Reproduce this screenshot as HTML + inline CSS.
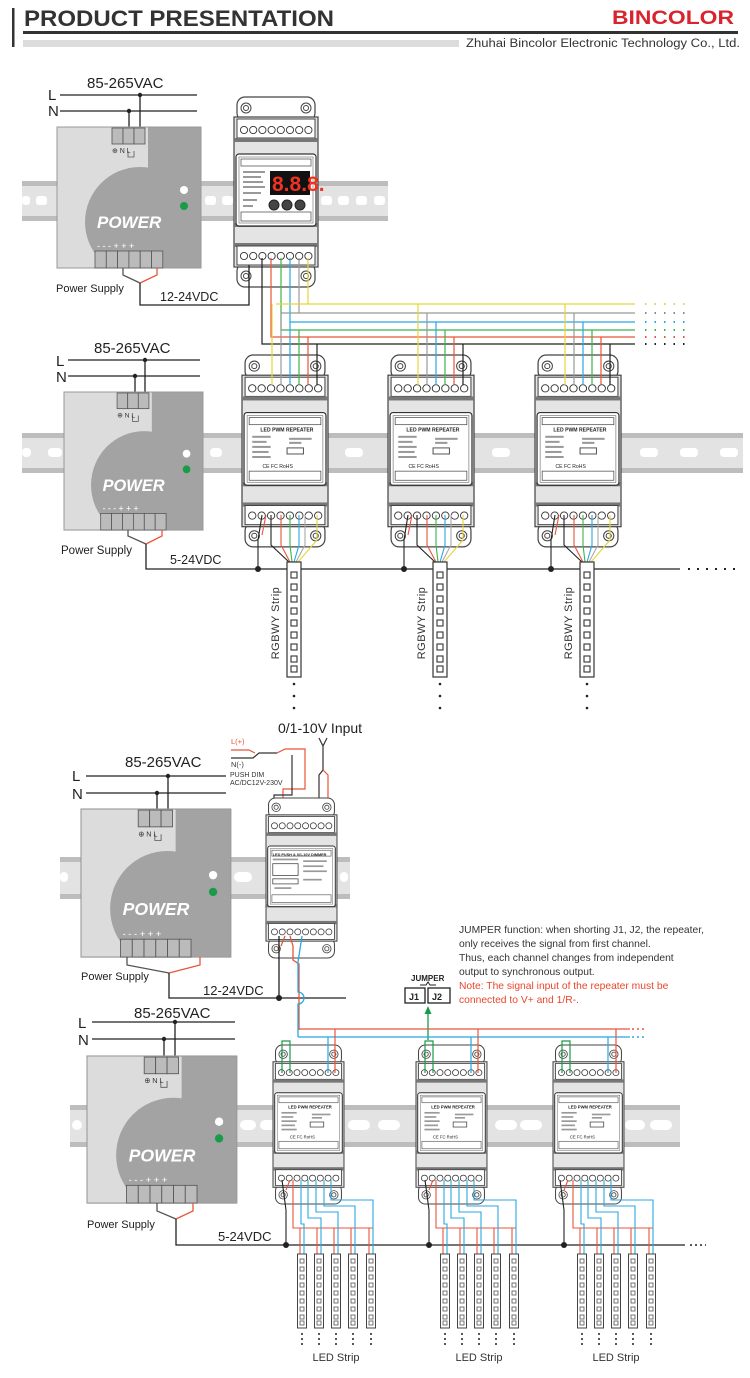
<!DOCTYPE html>
<html><head><meta charset="utf-8"><style>
html,body{margin:0;padding:0;background:#fff;width:750px;height:1378px;overflow:hidden}
svg{display:block}
text{font-family:"Liberation Sans",sans-serif}
</style></head><body>
<svg width="750" height="1378" viewBox="0 0 750 1378" xmlns="http://www.w3.org/2000/svg">
<defs>
<clipPath id="pc"><rect x="0" y="0" width="144" height="141"/></clipPath>
<g id="psu">
 <rect x="0" y="0" width="144" height="141" fill="#dcdcdc" stroke="#999"/>
 <g clip-path="url(#pc)" fill="#a3a3a3">
  <rect x="91" y="0" width="53" height="141"/>
  <circle cx="83" cy="95" r="55"/>
  <rect x="83" y="95" width="61" height="46"/>
 </g>
 <rect x="0" y="0" width="144" height="141" fill="none" stroke="#999"/>
 <g fill="#bbb" stroke="#555" stroke-width="0.8">
  <rect x="55" y="1" width="11" height="16"/><rect x="66" y="1" width="11" height="16"/><rect x="77" y="1" width="11" height="16"/>
  <rect x="38" y="124" width="11.3" height="17"/><rect x="49.3" y="124" width="11.3" height="17"/><rect x="60.6" y="124" width="11.3" height="17"/>
  <rect x="71.9" y="124" width="11.3" height="17"/><rect x="83.2" y="124" width="11.3" height="17"/><rect x="94.5" y="124" width="11.3" height="17"/>
 </g>
 <circle cx="127" cy="63" r="4" fill="#fff"/>
 <circle cx="127" cy="79" r="4" fill="#1a9b4a"/>
 <path d="M71 24v6h6v-6" fill="none" stroke="#555" stroke-width="0.8"/>
</g>
<g id="mod">
 <rect x="3" y="0" width="78" height="24" rx="8" fill="#fff" stroke="#444" stroke-width="1.2"/>
 <rect x="3" y="166" width="78" height="24" rx="8" fill="#fff" stroke="#444" stroke-width="1.2"/>
 <circle cx="12" cy="11" r="5" fill="#fff" stroke="#444"/><circle cx="12" cy="11" r="2.5" fill="none" stroke="#444"/>
 <circle cx="72" cy="11" r="5" fill="#fff" stroke="#444"/><circle cx="72" cy="11" r="2.5" fill="none" stroke="#444"/>
 <circle cx="12" cy="179" r="5" fill="#fff" stroke="#444"/><circle cx="12" cy="179" r="2.5" fill="none" stroke="#444"/>
 <circle cx="72" cy="179" r="5" fill="#fff" stroke="#444"/><circle cx="72" cy="179" r="2.5" fill="none" stroke="#444"/>
 <rect x="0" y="20" width="84" height="150" fill="#e4e4e4" stroke="#444" stroke-width="1.2"/>
 <rect x="3" y="22" width="78" height="19" fill="#fff" stroke="#444"/>
 <g fill="#fff" stroke="#333" stroke-width="0.9">
  <circle cx="10" cy="33" r="3.6"/><circle cx="19.2" cy="33" r="3.6"/><circle cx="28.4" cy="33" r="3.6"/><circle cx="37.6" cy="33" r="3.6"/>
  <circle cx="46.8" cy="33" r="3.6"/><circle cx="56" cy="33" r="3.6"/><circle cx="65.2" cy="33" r="3.6"/><circle cx="74.4" cy="33" r="3.6"/>
 </g>
 <rect x="0" y="41" width="84" height="4" fill="#777"/>
 <rect x="0" y="126" width="84" height="4" fill="#777"/>
 <rect x="2" y="57" width="80" height="72" rx="3" fill="#fff" stroke="#333" stroke-width="1.2"/>
 <rect x="5" y="60" width="74" height="66" fill="#fff" stroke="#666" stroke-width="0.6"/>
 <rect x="7" y="62" width="70" height="7" fill="#fff" stroke="#444" stroke-width="0.7"/>
 <rect x="7" y="115" width="70" height="9" fill="#fff" stroke="#444" stroke-width="0.7"/>
 <rect x="0" y="146" width="84" height="4" fill="#777"/>
 <rect x="3" y="149" width="78" height="19" fill="#fff" stroke="#444"/>
 <g fill="#fff" stroke="#333" stroke-width="0.9">
  <circle cx="10" cy="159" r="3.6"/><circle cx="19.2" cy="159" r="3.6"/><circle cx="28.4" cy="159" r="3.6"/><circle cx="37.6" cy="159" r="3.6"/>
  <circle cx="46.8" cy="159" r="3.6"/><circle cx="56" cy="159" r="3.6"/><circle cx="65.2" cy="159" r="3.6"/><circle cx="74.4" cy="159" r="3.6"/>
 </g>
</g>
<g id="rep">
 <g fill="#999"><rect x="10" y="80" width="18" height="2"/><rect x="10" y="85" width="14" height="2"/><rect x="10" y="90" width="18" height="2"/><rect x="10" y="95" width="16" height="2"/><rect x="10" y="100" width="18" height="2"/><rect x="46" y="82" width="22" height="2"/><rect x="46" y="86" width="12" height="2"/><rect x="44" y="92" width="16" height="6" fill="none" stroke="#555"/></g>
</g>
<g id="rail">
 <rect x="0" y="0" width="1" height="40" fill="#e6e6e6"/>
</g>
<g id="strip">
 <rect x="0" y="0" width="14" height="115" fill="#fff" stroke="#333" stroke-width="1.2"/>
 <g fill="#fff" stroke="#333" stroke-width="1.1">
  <rect x="4" y="10" width="6" height="6"/><rect x="4" y="22" width="6" height="6"/><rect x="4" y="34" width="6" height="6"/>
  <rect x="4" y="46" width="6" height="6"/><rect x="4" y="58" width="6" height="6"/><rect x="4" y="70" width="6" height="6"/>
  <rect x="4" y="82" width="6" height="6"/><rect x="4" y="94" width="6" height="6"/><rect x="4" y="104" width="6" height="6"/>
 </g>
 <g fill="#222"><circle cx="7" cy="122" r="1.3"/><circle cx="7" cy="134" r="1.3"/><circle cx="7" cy="146" r="1.3"/></g>
</g>
<g id="sstrip">
 <rect x="0" y="0" width="9" height="74" fill="#fff" stroke="#444" stroke-width="1"/>
 <g fill="#fff" stroke="#555" stroke-width="0.8">
  <rect x="2.5" y="5" width="4" height="4"/><rect x="2.5" y="13" width="4" height="4"/><rect x="2.5" y="21" width="4" height="4"/>
  <rect x="2.5" y="29" width="4" height="4"/><rect x="2.5" y="37" width="4" height="4"/><rect x="2.5" y="45" width="4" height="4"/>
  <rect x="2.5" y="53" width="4" height="4"/><rect x="2.5" y="61" width="4" height="4"/><rect x="2.5" y="67" width="4" height="4"/>
 </g>
 <g fill="#222"><circle cx="4.5" cy="80" r="1"/><circle cx="4.5" cy="85" r="1"/><circle cx="4.5" cy="90" r="1"/></g>
</g>
</defs>

<!-- HEADER -->
<rect x="12" y="8" width="2.5" height="39" fill="#333"/>
<text x="24" y="26" font-size="22" font-weight="bold" fill="#333" textLength="310" lengthAdjust="spacingAndGlyphs">PRODUCT PRESENTATION</text>
<text x="612" y="24" font-size="19" font-weight="bold" fill="#d9232d" textLength="122" lengthAdjust="spacingAndGlyphs">BINCOLOR</text>
<rect x="23" y="31" width="715" height="3" fill="#333"/>
<rect x="23" y="40" width="436" height="7" fill="#dcdcdc"/>
<text x="466" y="47" font-size="11.5" fill="#333" textLength="274" lengthAdjust="spacingAndGlyphs">Zhuhai Bincolor Electronic Technology Co., Ltd.</text>

<!-- ============ SECTION 1 ============ -->
<rect x="22" y="181" width="366" height="40" fill="#e3e3e3"/>
<rect x="22" y="181" width="366" height="5" fill="#bdbdbd"/><rect x="22" y="216" width="366" height="5" fill="#bdbdbd"/>
<g fill="#fff"><rect x="22" y="196" width="8" height="9" rx="3"/><rect x="36" y="196" width="11" height="9" rx="3"/><rect x="205" y="196" width="11" height="9" rx="3"/><rect x="222" y="196" width="11" height="9" rx="3"/><rect x="321" y="196" width="11" height="9" rx="3"/><rect x="338" y="196" width="11" height="9" rx="3"/><rect x="356" y="196" width="11" height="9" rx="3"/><rect x="374" y="196" width="11" height="9" rx="3"/></g>

<text x="87" y="88" font-size="15" fill="#222">85-265VAC</text>
<text x="48" y="100" font-size="15" fill="#222">L</text>
<text x="48" y="116" font-size="15" fill="#222">N</text>
<g stroke="#222" stroke-width="1.3" fill="none">
 <line x1="60" y1="95" x2="197" y2="95"/><line x1="60" y1="111" x2="197" y2="111"/>
 <line x1="140" y1="95" x2="140" y2="128"/><line x1="129" y1="111" x2="129" y2="128"/>
</g>
<circle cx="140" cy="95" r="2.2" fill="#222"/><circle cx="129" cy="111" r="2.2" fill="#222"/>
<g transform="translate(57,127)"><use href="#psu"/>
 <text x="40" y="101" font-size="17" font-weight="bold" font-style="italic" fill="#fff">POWER</text>
 <text x="40" y="122" font-size="9" fill="#fff" letter-spacing="2.5">---+++</text>
 <text x="55" y="26" font-size="7" fill="#333">⊕ N L</text>
</g>
<text x="56" y="292" font-size="11" fill="#222">Power Supply</text>
<text x="160" y="301" font-size="12.5" fill="#222">12-24VDC</text>

<!-- decoder -->
<g transform="translate(234,97)"><use href="#mod"/>
 <rect x="36" y="74" width="40" height="24" fill="#111"/>
 <text x="38" y="94" font-size="21" fill="#e32" font-family="Liberation Mono" font-weight="bold">8.8.8.</text>
 <g fill="#444" stroke="#222"><circle cx="40" cy="108" r="5"/><circle cx="53" cy="108" r="5"/><circle cx="66" cy="108" r="5"/></g>
 <g fill="#999"><rect x="9" y="74" width="22" height="2"/><rect x="9" y="79" width="18" height="2"/><rect x="9" y="84" width="20" height="2"/><rect x="9" y="89" width="22" height="2"/><rect x="9" y="95" width="18" height="2"/><rect x="9" y="102" width="14" height="2"/><rect x="9" y="108" width="10" height="2"/></g>
</g>

<!-- section1 power wires -->
<g fill="none" stroke-width="1.3">
 <path d="M123 268v7l17 8" stroke="#555"/><path d="M157 268v7l-17 8" stroke="#e8553a"/>
 <path d="M140 283v22h109v-40" stroke="#222"/>
</g>
<!-- decoder to bus -->
<g fill="none" stroke-width="1.2">
 <path d="M262 258V344H635" stroke="#222"/>
 <path d="M271 258V337H635" stroke="#e8553a"/>
 <path d="M281 258V330H635" stroke="#3cb54a"/>
 <path d="M290 258V322H635" stroke="#29a8e0"/>
 <path d="M299 258V313H635" stroke="#999"/>
 <path d="M308 258V304H635" stroke="#e8d43a"/>
 <path d="M276 304H308" stroke="#e8d43a"/><path d="M281 313H299" stroke="#999"/>
</g>
<g stroke-width="2" stroke-dasharray="1.5 8" fill="none">
 <line x1="645" y1="304" x2="690" y2="304" stroke="#e8d43a"/>
 <line x1="645" y1="313" x2="690" y2="313" stroke="#888"/>
 <line x1="645" y1="322" x2="690" y2="322" stroke="#29a8e0"/>
 <line x1="645" y1="330" x2="690" y2="330" stroke="#3cb54a"/>
 <line x1="645" y1="337" x2="690" y2="337" stroke="#e8553a"/>
 <line x1="645" y1="344" x2="690" y2="344" stroke="#222"/>
</g>

<!-- ============ SECTION 2 ============ -->
<rect x="22" y="433" width="721" height="40" fill="#e3e3e3"/>
<rect x="22" y="433" width="721" height="5" fill="#bdbdbd"/><rect x="22" y="468" width="721" height="5" fill="#bdbdbd"/>
<g fill="#fff"><rect x="22" y="448" width="9" height="9" rx="4"/><rect x="48" y="448" width="14" height="9" rx="4"/><rect x="210" y="448" width="12" height="9" rx="4"/><rect x="345" y="448" width="18" height="9" rx="4"/><rect x="492" y="448" width="18" height="9" rx="4"/><rect x="640" y="448" width="18" height="9" rx="4"/><rect x="680" y="448" width="18" height="9" rx="4"/><rect x="720" y="448" width="18" height="9" rx="4"/><rect x="484" y="448" width="0" height="9"/></g>

<text x="94" y="353" font-size="15" fill="#222">85-265VAC</text>
<text x="56" y="366" font-size="15" fill="#222">L</text>
<text x="56" y="382" font-size="15" fill="#222">N</text>
<g stroke="#222" stroke-width="1.3" fill="none">
 <line x1="68" y1="360" x2="200" y2="360"/><line x1="68" y1="376" x2="200" y2="376"/>
 <line x1="145" y1="360" x2="145" y2="393"/><line x1="135" y1="376" x2="135" y2="393"/>
</g>
<circle cx="145" cy="360" r="2.2" fill="#222"/><circle cx="135" cy="376" r="2.2" fill="#222"/>
<g transform="translate(64,392) scale(0.965,0.979)"><use href="#psu"/>
 <text x="40" y="101" font-size="17" font-weight="bold" font-style="italic" fill="#fff">POWER</text>
 <text x="40" y="122" font-size="9" fill="#fff" letter-spacing="2.5">---+++</text>
 <text x="55" y="26" font-size="7" fill="#333">⊕ N L</text>
</g>
<text x="61" y="554" font-size="11.5" fill="#222">Power Supply</text>
<text x="170" y="564" font-size="12.5" fill="#222">5-24VDC</text>
<g fill="none" stroke-width="1.3">
 <path d="M128 530v6l18 8" stroke="#555"/><path d="M162 530v6l-16 8" stroke="#e8553a"/>
 <path d="M146 544v25h534" stroke="#222"/>
</g>
<g stroke="#222" stroke-width="2" stroke-dasharray="2 7"><line x1="688" y1="569" x2="740" y2="569"/></g>

<!-- repeaters row 2 + drops -->
<g id="r2a">
<g transform="translate(242,355) scale(1.024,1.01)"><use href="#mod"/><use href="#rep"/>
 <text x="18" y="76" font-size="5" font-weight="bold" fill="#222">LED PWM REPEATER</text>
 <text x="20" y="112" font-size="5" fill="#222">CE FC RoHS</text></g>
</g>
<g transform="translate(388,355) scale(1.024,1.01)"><use href="#mod"/><use href="#rep"/>
 <text x="18" y="76" font-size="5" font-weight="bold" fill="#222">LED PWM REPEATER</text>
 <text x="20" y="112" font-size="5" fill="#222">CE FC RoHS</text></g>
<g transform="translate(535,355) scale(1.024,1.01)"><use href="#mod"/><use href="#rep"/>
 <text x="18" y="76" font-size="5" font-weight="bold" fill="#222">LED PWM REPEATER</text>
 <text x="20" y="112" font-size="5" fill="#222">CE FC RoHS</text></g>

<g fill="none" stroke-width="1.2">
 <path d="M272 304V385M418 304V385M565 304V385" stroke="#e8d43a"/>
 <path d="M281 313V385M427 313V385M574 313V385" stroke="#999"/>
 <path d="M290 322V385M436 322V385M583 322V385" stroke="#29a8e0"/>
 <path d="M299 330V385M445 330V385M592 330V385" stroke="#3cb54a"/>
 <path d="M308 337V385M454 337V385M601 337V385" stroke="#e8553a"/>
 <path d="M317 344V385M463 344V385M610 344V385" stroke="#222"/>
</g>

<!-- rep2 bottom wires -->
<g fill="none" stroke-width="1.1">
 <path d="M258 569V540l4-25M404 569V540l4-25M551 569V540l4-25" stroke="#222"/>
 <path d="M266 515l-4 20M412 515l-4 20M559 515l-4 20" stroke="#e8553a"/>
 <path d="M271 515v30l18 17M417 515v30l18 17M564 515v30l18 17" stroke="#222"/>
 <path d="M281 515v30l9 17M427 515v30l9 17M574 515v30l9 17" stroke="#e8553a"/>
 <path d="M290 515v30l2 17M436 515v30l2 17M583 515v30l2 17" stroke="#3cb54a"/>
 <path d="M299 515v30l-5 17M445 515v30l-5 17M592 515v30l-5 17" stroke="#29a8e0"/>
 <path d="M305 515v30l-9 17M451 515v30l-9 17M598 515v30l-9 17" stroke="#aaa"/>
 <path d="M317 515v25l-19 22M463 515v25l-19 22M610 515v25l-19 22" stroke="#e8d43a"/>
</g>
<g fill="#222"><circle cx="258" cy="569" r="3"/><circle cx="404" cy="569" r="3"/><circle cx="551" cy="569" r="3"/></g>
<use href="#strip" x="287" y="562"/><use href="#strip" x="433" y="562"/><use href="#strip" x="580" y="562"/>
<text transform="translate(279,623) rotate(-90)" text-anchor="middle" font-size="11" fill="#333" letter-spacing="0.5">RGBWY Strip</text>
<text transform="translate(425,623) rotate(-90)" text-anchor="middle" font-size="11" fill="#333" letter-spacing="0.5">RGBWY Strip</text>
<text transform="translate(572,623) rotate(-90)" text-anchor="middle" font-size="11" fill="#333" letter-spacing="0.5">RGBWY Strip</text>

<!-- ============ SECTION 3 ============ -->
<rect x="60" y="857" width="290" height="42" fill="#e3e3e3"/>
<rect x="60" y="857" width="290" height="5" fill="#bdbdbd"/><rect x="60" y="894" width="290" height="5" fill="#bdbdbd"/>
<g fill="#fff"><rect x="60" y="872" width="8" height="10" rx="4"/><rect x="234" y="872" width="18" height="10" rx="5"/><rect x="340" y="872" width="8" height="10" rx="4"/></g>

<text x="278" y="733" font-size="14" fill="#222">0/1-10V Input</text>
<text x="231" y="744" font-size="7.5" fill="#e8553a">L(+)</text>
<text x="231" y="767" font-size="7.5" fill="#333">N(-)</text>
<text x="230" y="777" font-size="7" fill="#333">PUSH DIM</text>
<text x="230" y="785" font-size="7" fill="#333">AC/DC12V-230V</text>
<g fill="none" stroke-width="1.2">
 <path d="M231 750h18l6 3" stroke="#e8553a"/>
 <path d="M231 758h22l6-5h18" stroke="#333"/>
 <path d="M277 753l8-4h20v40h-22v38" stroke="#e8553a"/>
 <path d="M292 755v40h-18v32" stroke="#333"/>
 <path d="M319 738l4 8l4-8M323 746v24l-4 5v52" stroke="#333"/>
 <path d="M323 770l5 5v52" stroke="#e8553a"/>
</g>
<text x="85" y="767" font-size="15" fill="#222" dx="40">85-265VAC</text>
<text x="72" y="781" font-size="15" fill="#222">L</text>
<text x="72" y="799" font-size="15" fill="#222">N</text>
<g stroke="#222" stroke-width="1.3" fill="none">
 <line x1="86" y1="776" x2="226" y2="776"/><line x1="86" y1="793" x2="226" y2="793"/>
 <line x1="168" y1="776" x2="168" y2="810"/><line x1="157" y1="793" x2="157" y2="810"/>
</g>
<circle cx="168" cy="776" r="2.2" fill="#222"/><circle cx="157" cy="793" r="2.2" fill="#222"/>
<g transform="translate(81,809) scale(1.04,1.05)"><use href="#psu"/>
 <text x="40" y="101" font-size="17" font-weight="bold" font-style="italic" fill="#fff">POWER</text>
 <text x="40" y="122" font-size="9" fill="#fff" letter-spacing="2.5">---+++</text>
 <text x="55" y="26" font-size="7" fill="#333">⊕ N L</text>
</g>
<text x="81" y="980" font-size="11" fill="#222">Power Supply</text>
<text x="203" y="995" font-size="13" fill="#222">12-24VDC</text>

<g transform="translate(266,798) scale(0.845,0.842)"><use href="#mod"/>
 <g fill="#999"><rect x="8" y="72" width="30" height="2"/><rect x="8" y="78" width="30" height="14" fill="none" stroke="#555"/><rect x="8" y="96" width="30" height="6" fill="none" stroke="#555"/><rect x="44" y="74" width="28" height="2"/><rect x="44" y="80" width="24" height="2"/><rect x="44" y="86" width="28" height="2"/><rect x="44" y="96" width="22" height="2"/><rect x="10" y="106" width="20" height="2"/></g>
 <text x="8" y="69" font-size="4.5" font-weight="bold" fill="#222">LED PUSH &amp; 0/1-10V DIMMER</text>
</g>

<g fill="none" stroke-width="1.3">
 <path d="M127 957v8l42 8" stroke="#555"/><path d="M200 957v8l-31 8" stroke="#e8553a"/>
 <path d="M169 973v25h177" stroke="#222"/>
 <path d="M279 936v62" stroke="#222"/>
 <path d="M285 936l-4 10M290 936l3 10v14l6 4v66" stroke="#e8553a"/>
 <path d="M302 936l-4 26v30a6 6 0 0 1 0 12v33" stroke="#29a8e0"/>
</g>
<circle cx="279" cy="998" r="3" fill="#222"/>

<!-- text block -->
<g font-size="10.3" fill="#333">
 <text x="459" y="933">JUMPER function: when shorting J1, J2, the repeater,</text>
 <text x="459" y="947">only receives the signal from first channel.</text>
 <text x="459" y="961">Thus, each channel changes from independent</text>
 <text x="459" y="975">output to synchronous output.</text>
 <text x="459" y="989" fill="#e8462a">Note: The signal input of the repeater must be</text>
 <text x="459" y="1003" fill="#e8462a">connected to V+ and 1/R-.</text>
</g>
<text x="411" y="981" font-size="8" font-weight="bold" fill="#222">JUMPER</text>
<path d="M420 985h6l2-3l2 3h6" fill="none" stroke="#222"/>
<rect x="405" y="988" width="20" height="15" fill="#fff" stroke="#222" stroke-width="1.3"/>
<rect x="428" y="988" width="22" height="15" fill="#fff" stroke="#222" stroke-width="1.3"/>
<text x="409" y="1000" font-size="9" font-weight="bold" fill="#222">J1</text>
<text x="432" y="1000" font-size="9" font-weight="bold" fill="#222">J2</text>
<path d="M428 1040V1012" stroke="#1a9b4a" stroke-width="1.3"/>
<path d="M424.5 1014l3.5-8l3.5 8z" fill="#1a9b4a"/>

<!-- ============ SECTION 4 ============ -->
<rect x="70" y="1105" width="610" height="42" fill="#e3e3e3"/>
<rect x="70" y="1105" width="610" height="5" fill="#bdbdbd"/><rect x="70" y="1142" width="610" height="5" fill="#bdbdbd"/>
<g fill="#fff"><rect x="72" y="1120" width="10" height="10" rx="5"/><rect x="240" y="1120" width="16" height="10" rx="5"/><rect x="260" y="1120" width="16" height="10" rx="5"/><rect x="348" y="1120" width="22" height="10" rx="5"/><rect x="378" y="1120" width="22" height="10" rx="5"/><rect x="495" y="1120" width="22" height="10" rx="5"/><rect x="520" y="1120" width="22" height="10" rx="5"/><rect x="625" y="1120" width="20" height="10" rx="5"/><rect x="650" y="1120" width="22" height="10" rx="5"/></g>

<text x="134" y="1018" font-size="15" fill="#222">85-265VAC</text>
<text x="78" y="1028" font-size="15" fill="#222">L</text>
<text x="78" y="1045" font-size="15" fill="#222">N</text>
<g stroke="#222" stroke-width="1.3" fill="none">
 <line x1="92" y1="1022" x2="235" y2="1022"/><line x1="92" y1="1039" x2="235" y2="1039"/>
 <line x1="175" y1="1022" x2="175" y2="1057"/><line x1="164" y1="1039" x2="164" y2="1057"/>
</g>
<circle cx="175" cy="1022" r="2.2" fill="#222"/><circle cx="164" cy="1039" r="2.2" fill="#222"/>
<g transform="translate(87,1056) scale(1.04,1.043)"><use href="#psu"/>
 <text x="40" y="101" font-size="17" font-weight="bold" font-style="italic" fill="#fff">POWER</text>
 <text x="40" y="122" font-size="9" fill="#fff" letter-spacing="2.5">---+++</text>
 <text x="55" y="26" font-size="7" fill="#333">⊕ N L</text>
</g>
<text x="87" y="1228" font-size="11" fill="#222">Power Supply</text>
<text x="218" y="1241" font-size="13" fill="#222">5-24VDC</text>
<g fill="none" stroke-width="1.3">
 <path d="M157 1203v8l19 8" stroke="#555"/><path d="M193 1203v8l-17 8" stroke="#e8553a"/>
 <path d="M176 1219v26h509" stroke="#222"/>
 <path d="M299 1029H630" stroke="#e8553a"/><path d="M298 1037H630" stroke="#29a8e0"/>
</g>
<g stroke-width="1.5" stroke-dasharray="2 3"><line x1="632" y1="1029" x2="646" y2="1029" stroke="#e8553a"/><line x1="632" y1="1037" x2="646" y2="1037" stroke="#29a8e0"/><line x1="690" y1="1245" x2="706" y2="1245" stroke="#222"/></g>

<g transform="translate(273,1045) scale(0.845,0.837)"><use href="#mod"/><use href="#rep"/>
 <text x="18" y="76" font-size="5" font-weight="bold" fill="#222">LED PWM REPEATER</text><text x="20" y="112" font-size="5" fill="#222">CE FC RoHS</text></g>
<g transform="translate(416,1045) scale(0.845,0.837)"><use href="#mod"/><use href="#rep"/>
 <text x="18" y="76" font-size="5" font-weight="bold" fill="#222">LED PWM REPEATER</text><text x="20" y="112" font-size="5" fill="#222">CE FC RoHS</text></g>
<g transform="translate(553,1045) scale(0.845,0.837)"><use href="#mod"/><use href="#rep"/>
 <text x="18" y="76" font-size="5" font-weight="bold" fill="#222">LED PWM REPEATER</text><text x="20" y="112" font-size="5" fill="#222">CE FC RoHS</text></g>

<g fill="none" stroke-width="1.2">
 <path d="M328 1037v36M471 1037v36M608 1037v36" stroke="#29a8e0"/>
 <path d="M335 1029v44M478 1029v44M616 1029v44" stroke="#e8553a"/>
 <path d="M282 1073v-32h8v32M425 1073v-32h8v32M562 1073v-32h8v32" stroke="#1a9b4a"/>
</g>

<!-- section4 bottom wires & strips -->
<g fill="none" stroke-width="1.1">
 <path d="M286 1245v-35l-4-30M429 1245v-35l-4-30M564 1245v-35l-4-30" stroke="#222"/>
 <path d="M290 1180l-4 10M433 1180l-4 10M568 1180l-4 10" stroke="#e8553a"/>
</g>
<g id="w1" fill="none" stroke-width="1.1">
 <path d="M293 1180v48h80M300 1228v26M317 1228v26M334 1228v26M351 1228v26M369 1228v26" stroke="#e8553a"/>
 <path d="M301 1180v44h3v30M308 1180v38h13v36M316 1180v32h22v42M324 1180v26h31v48M331 1180v20h42v54" stroke="#29a8e0"/>
</g>
<use href="#w1" x="143"/><use href="#w1" x="280"/>
<g fill="#222"><circle cx="286" cy="1245" r="3"/><circle cx="429" cy="1245" r="3"/><circle cx="564" cy="1245" r="3"/></g>
<g id="ss">
<use href="#sstrip" x="297.5" y="1254"/><use href="#sstrip" x="314.5" y="1254"/><use href="#sstrip" x="331.5" y="1254"/><use href="#sstrip" x="348.5" y="1254"/><use href="#sstrip" x="366.5" y="1254"/>
</g>
<use href="#ss" x="143"/><use href="#ss" x="280"/>
<text x="336" y="1361" font-size="11" fill="#333" text-anchor="middle">LED Strip</text>
<text x="479" y="1361" font-size="11" fill="#333" text-anchor="middle">LED Strip</text>
<text x="616" y="1361" font-size="11" fill="#333" text-anchor="middle">LED Strip</text>
</svg>
</body></html>
